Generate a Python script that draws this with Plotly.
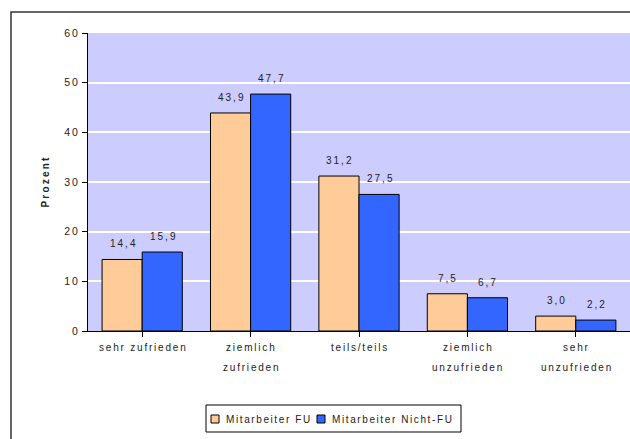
import plotly.graph_objects as go

categories = ["sehr zufrieden", "ziemlich\nzufrieden", "teils/teils",
              "ziemlich\nunzufrieden", "sehr\nunzufrieden"]
series_names = ["Mitarbeiter FU", "Mitarbeiter Nicht-FU"]
values_fu = [14.4, 43.9, 31.2, 7.5, 3.0]
values_nicht_fu = [15.9, 47.7, 27.5, 6.7, 2.2]
y_ticks = [0, 10, 20, 30, 40, 50, 60]

FONT = "Liberation Sans, Arial, sans-serif"
TXT = "#222222"
colors = ["#FFCC99", "#3366FF"]


def spaced(text, px=1.8):
    """Wrap text in a span with extra letter spacing."""
    return f"<span style='letter-spacing:{px}px'>{text}</span>"


W, H = 630, 439
ML, MR, MT, MB = 88, 0, 33, 108
plot_w = W - ML - MR
plot_h = H - MT - MB
bargap = 0.26
cat_w = plot_w / len(categories)
bar_w = cat_w * (1 - bargap) / 2


def px_x(p):
    """Pixel column -> paper x."""
    return (p - ML) / plot_w


def px_y(p):
    """Pixel row -> paper y."""
    return (MT + plot_h - p) / plot_h


x_idx = list(range(len(categories)))

fig = go.Figure()
for name, vals, col in zip(series_names, [values_fu, values_nicht_fu], colors):
    fig.add_trace(go.Bar(
        x=x_idx, y=vals, name=name, showlegend=False,
        marker=dict(color=col, line=dict(color="black", width=1)),
    ))

annotations = []
# value labels above each bar
for s, vals in enumerate([values_fu, values_nicht_fu]):
    shift = (s - 0.5) * bar_w
    for i, v in enumerate(vals):
        annotations.append(dict(
            x=i, y=v, xref="x", yref="y",
            text=spaced(f"{v:.1f}".replace(".", ","), 2),
            showarrow=False, yanchor="bottom", xshift=shift + 1, yshift=8,
            font=dict(family=FONT, size=10, color=TXT),
        ))

# category labels, one annotation per line for wider line spacing
for i, lab in enumerate(categories):
    for j, line in enumerate(lab.split("\n")):
        annotations.append(dict(
            x=i, y=0, xref="x", yref="paper", text=spaced(line, 1.8),
            showarrow=False, yanchor="top", yshift=-9 - 20 * j, xshift=1,
            font=dict(family=FONT, size=10, color=TXT),
        ))

# axis title
annotations.append(dict(
    x=px_x(37), y=0.5, xref="paper", yref="paper",
    text=spaced("<b>Prozent</b>", 2.2),
    textangle=-90, showarrow=False,
    font=dict(family=FONT, size=10, color=TXT),
))

shapes = [
    # outer chart frame
    dict(type="rect", xref="paper", yref="paper",
         x0=px_x(11), x1=px_x(W + 20), y0=px_y(H + 20), y1=px_y(12),
         line=dict(color="#333333", width=1.5), layer="below"),
    # legend box
    dict(type="rect", xref="paper", yref="paper",
         x0=px_x(206), x1=px_x(461), y0=px_y(432), y1=px_y(405),
         line=dict(color="black", width=1), fillcolor="white", layer="above"),
]

# legend entries: swatch + label
legend_swatch_x = [211, 317]
for name, col, sx in zip(series_names, colors, legend_swatch_x):
    shapes.append(dict(
        type="rect", xref="paper", yref="paper",
        x0=px_x(sx), x1=px_x(sx + 8), y0=px_y(423), y1=px_y(415),
        line=dict(color="black", width=1), fillcolor=col, layer="above",
    ))
    annotations.append(dict(
        x=px_x(sx + 13), y=px_y(419), xref="paper", yref="paper",
        text=spaced(name, 1.6), showarrow=False,
        xanchor="left", yanchor="middle",
        font=dict(family=FONT, size=10, color=TXT),
    ))

fig.update_layout(
    width=W, height=H,
    margin=dict(l=ML, r=MR, t=MT, b=MB, pad=0),
    paper_bgcolor="white",
    plot_bgcolor="#CCCCFF",
    barmode="group", bargap=bargap, bargroupgap=0,
    font=dict(family=FONT, size=10, color=TXT),
    xaxis=dict(
        range=[-0.5, len(categories) - 0.5],
        tickmode="array", tickvals=x_idx, ticktext=[""] * len(categories),
        showticklabels=False, tickson="boundaries",
        ticks="outside", ticklen=5, tickcolor="black",
        showline=True, linecolor="black", linewidth=1,
        showgrid=False, zeroline=False, fixedrange=True,
    ),
    yaxis=dict(
        range=[0, 60], tickmode="array", tickvals=y_ticks,
        ticktext=[spaced(str(t), 2) for t in y_ticks],
        ticks="outside", ticklen=5, tickcolor="black",
        showline=True, linecolor="black", linewidth=1,
        showgrid=True, gridcolor="white", gridwidth=1.5,
        zeroline=False,
        tickfont=dict(family=FONT, size=10.5, color=TXT),
    ),
    showlegend=False,
    annotations=annotations,
    shapes=shapes,
)

fig.write_html("out.html")
